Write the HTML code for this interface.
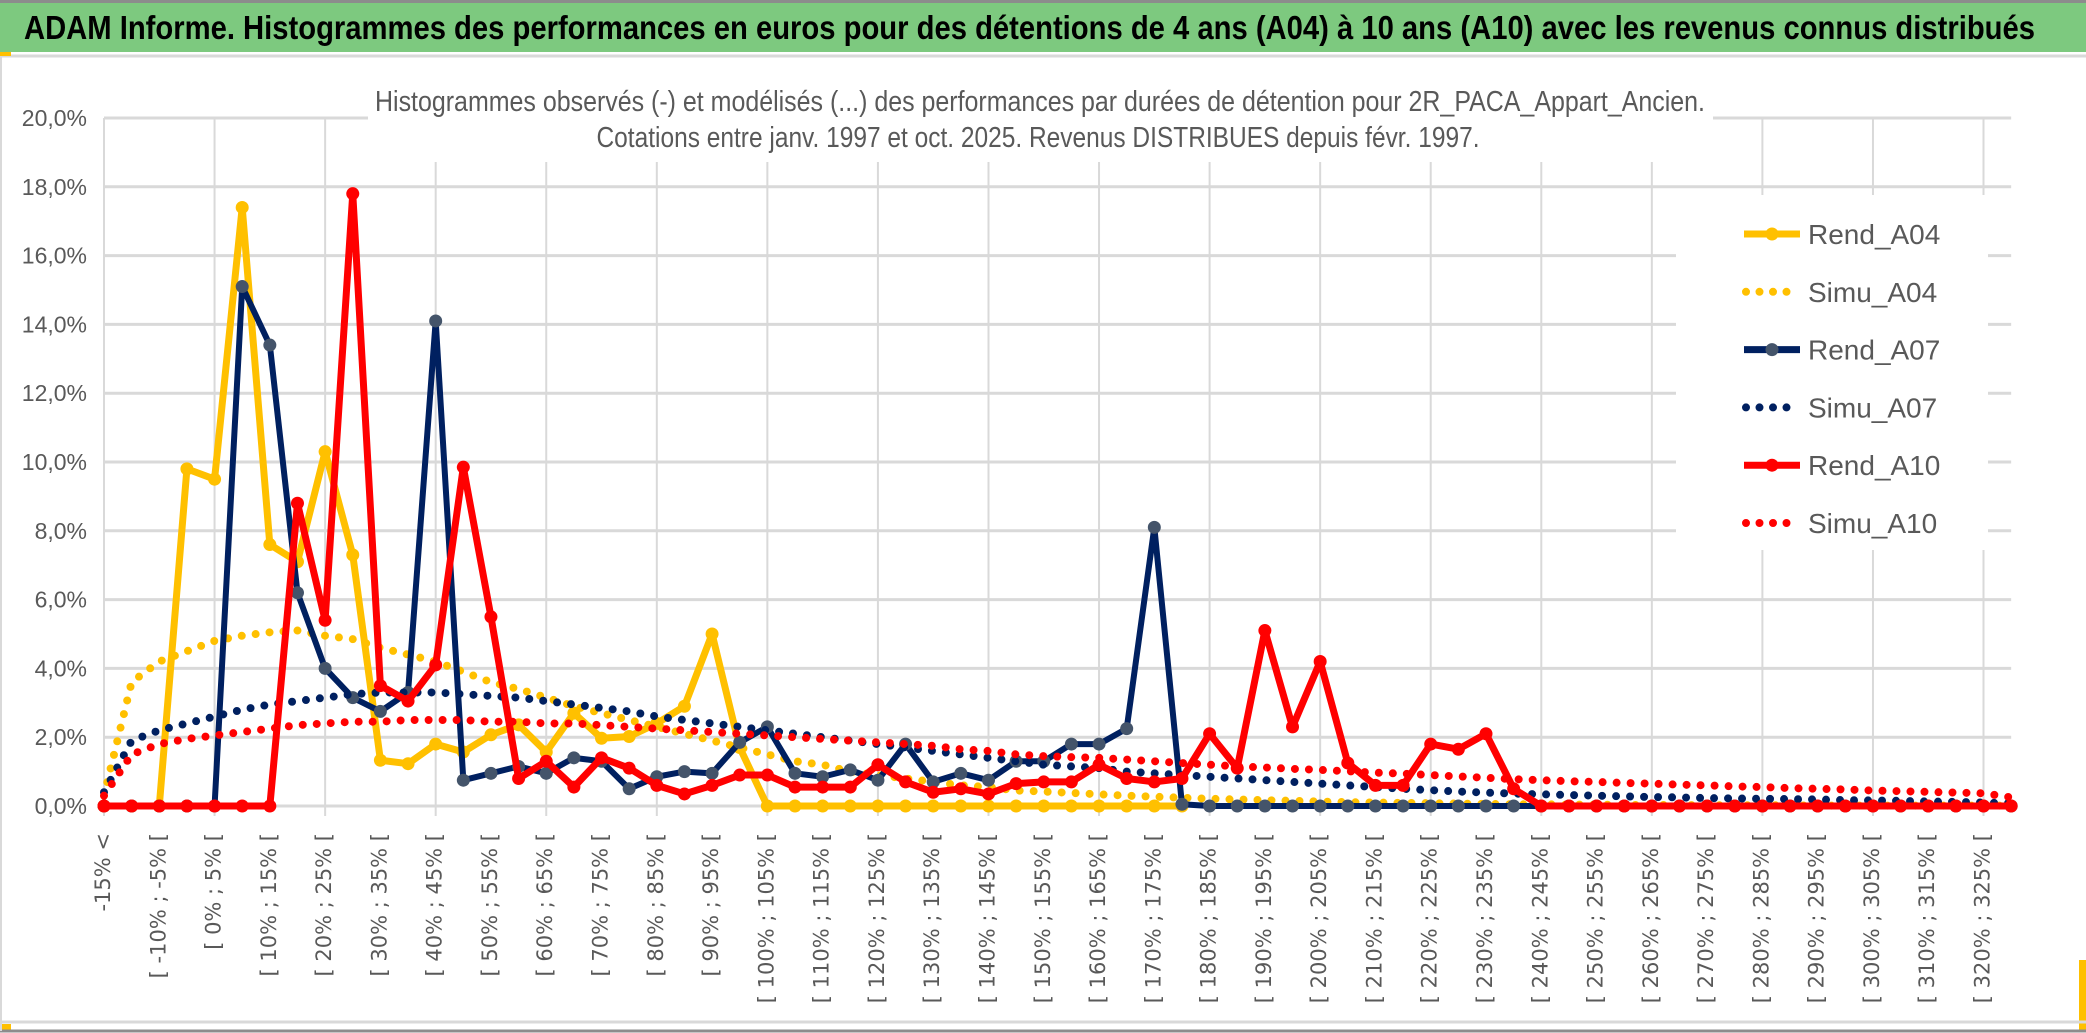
<!DOCTYPE html>
<html><head><meta charset="utf-8">
<style>
html,body{margin:0;padding:0;background:#fff;}
svg{display:block;}
</style></head>
<body>
<svg id="chart" xmlns="http://www.w3.org/2000/svg" width="2086" height="1033" viewBox="0 0 2086 1033">
  <rect x="0" y="0" width="2086" height="1033" fill="#ffffff"/>
  <rect x="0" y="3" width="2086" height="49" fill="#7dc97f"/>
  <line x1="0" y1="1.5" x2="2086" y2="1.5" stroke="#8c8c8c" stroke-width="3"/>
  <text x="24" y="39" font-family="'Liberation Sans Narrow','Liberation Sans',sans-serif" font-weight="bold" font-size="33" fill="#000" textLength="2011" lengthAdjust="spacingAndGlyphs">ADAM Informe. Histogrammes des performances en euros pour des détentions de 4 ans (A04) à 10 ans (A10) avec les revenus connus distribués</text>
  <line x1="0" y1="56" x2="2086" y2="56" stroke="#d9d9d9" stroke-width="3"/>
  <rect x="0" y="52" width="11" height="4" fill="#ffc000"/>
  <rect x="0" y="1024" width="11" height="6" fill="#ffc000"/>
  <rect x="2079" y="960" width="7" height="70" fill="#ffc000"/>
  <line x1="0" y1="1022" x2="2086" y2="1022" stroke="#d9d9d9" stroke-width="3"/>
  <line x1="0" y1="1031" x2="2086" y2="1031" stroke="#8c8c8c" stroke-width="3"/>
  <line x1="1" y1="56" x2="1" y2="1031" stroke="#d9d9d9" stroke-width="2"/>
  <g id="grid"></g>
  <rect x="368" y="70" width="1345" height="92" fill="#fff"/>
  <text x="1040" y="111" text-anchor="middle" font-family="'Liberation Sans Narrow','Liberation Sans',sans-serif" font-size="29" fill="#595959" textLength="1330" lengthAdjust="spacingAndGlyphs">Histogrammes observés (-) et modélisés (...) des performances par durées de détention pour 2R_PACA_Appart_Ancien.</text>
  <text x="1038" y="147" text-anchor="middle" font-family="'Liberation Sans Narrow','Liberation Sans',sans-serif" font-size="29" fill="#595959" textLength="883" lengthAdjust="spacingAndGlyphs">Cotations entre janv. 1997 et oct. 2025. Revenus DISTRIBUES depuis févr. 1997.</text>
  <rect x="1676" y="195" width="312" height="355" fill="#fff"/>
  <g id="ylabels"></g>
  <g id="xlabels"></g>
  <g id="series"></g>
  <g id="legend"></g>
</svg>
<script>
const categories = (function(){ const c=["-15% <"]; for(let k=1;k<70;k++){const a=-15+5*(k-1), b=a+5; c.push("[ "+a+"% ; "+b+"% [");} return c;})();
const yTicks = [0,2,4,6,8,10,12,14,16,18,20];
const yTickLabels = ["0,0%","2,0%","4,0%","6,0%","8,0%","10,0%","12,0%","14,0%","16,0%","18,0%","20,0%"];
const seriesNames = ["Rend_A04","Simu_A04","Rend_A07","Simu_A07","Rend_A10","Simu_A10"];
const rendA04 = [0,0,0,9.8,9.5,17.4,7.6,7.1,10.3,7.3,1.33,1.23,1.8,1.57,2.07,2.36,1.57,2.7,1.97,2.02,2.4,2.9,5.0,1.7,0,0,0,0,0,0,0,0,0,0,0,0,0,0,0,0];
const simuA04 = [0.3,3.6,4.2,4.5,4.8,4.95,5.05,5.1,4.95,4.85,4.6,4.4,4.2,3.9,3.6,3.4,3.15,2.9,2.7,2.5,2.3,2.1,1.9,1.7,1.5,1.3,1.2,1.0,0.9,0.8,0.7,0.6,0.55,0.45,0.42,0.38,0.34,0.3,0.27,0.24,0.21,0.19,0.17,0.15,0.13,0.11,0.1,0.09,0.08,0.07,0.06,0.05,0.05,0.04,0.04,0.03,0.03,0.03,0.02,0.02,0.02,0.02,0.01,0.01,0.01,0.01,0.01,0.01,0.01,0.01];
const rendA07 = [0,0,0,0,0,15.1,13.4,6.2,4.0,3.15,2.75,3.3,14.1,0.75,0.95,1.15,0.95,1.4,1.3,0.5,0.85,1.0,0.95,1.85,2.3,0.95,0.85,1.05,0.75,1.8,0.7,0.95,0.75,1.3,1.3,1.8,1.8,2.25,8.1,0.05,0,0,0,0,0,0,0,0,0,0,0,0,0,0,0,0,0,0,0,0,0,0,0,0,0,0,0,0,0,0];
const simuA07 = [0.4,1.9,2.2,2.4,2.6,2.8,2.95,3.05,3.15,3.25,3.3,3.3,3.3,3.25,3.2,3.15,3.05,2.95,2.85,2.75,2.6,2.5,2.4,2.3,2.2,2.1,2.0,1.9,1.8,1.7,1.6,1.5,1.4,1.3,1.2,1.15,1.1,1.0,0.95,0.9,0.85,0.8,0.75,0.7,0.65,0.6,0.55,0.5,0.46,0.42,0.39,0.36,0.34,0.32,0.3,0.28,0.26,0.25,0.23,0.22,0.21,0.2,0.19,0.17,0.16,0.15,0.13,0.12,0.1,0.08];
const rendA10 = [0,0,0,0,0,0,0,8.8,5.4,17.8,3.5,3.05,4.1,9.85,5.5,0.8,1.3,0.55,1.4,1.1,0.6,0.35,0.6,0.9,0.9,0.55,0.55,0.55,1.2,0.7,0.4,0.5,0.35,0.65,0.7,0.7,1.2,0.8,0.7,0.8,2.1,1.1,5.1,2.3,4.2,1.25,0.6,0.6,1.8,1.65,2.1,0.5,0,0,0,0,0,0,0,0,0,0,0,0,0,0,0,0,0,0];
const simuA10 = [0.3,1.5,1.8,1.95,2.05,2.15,2.25,2.35,2.4,2.45,2.45,2.5,2.5,2.5,2.45,2.45,2.4,2.4,2.35,2.3,2.25,2.2,2.15,2.1,2.05,2.0,1.95,1.9,1.85,1.8,1.75,1.65,1.6,1.5,1.45,1.42,1.4,1.35,1.3,1.25,1.2,1.15,1.12,1.08,1.05,1.01,0.97,0.94,0.9,0.86,0.82,0.78,0.75,0.72,0.7,0.67,0.65,0.62,0.6,0.57,0.55,0.52,0.5,0.48,0.45,0.43,0.41,0.39,0.37,0.25];

const NS="http://www.w3.org/2000/svg";
const X0=104, DX=27.64, Y0=806, YPER=34.4;
function xPos(i){return X0+i*DX;}
function yPos(v){return Y0-v*YPER;}
function mk(tag,attrs,parent){const e=document.createElementNS(NS,tag);for(const k in attrs)e.setAttribute(k,attrs[k]);parent.appendChild(e);return e;}

const grid=document.getElementById('grid');
yTicks.forEach((t,k)=>{
  const l=mk('line',{x1:X0,x2:xPos(69),y1:yPos(t),y2:yPos(t),stroke:'#d9d9d9','stroke-width':3},grid);
  
  
});
for(let i=0;i<70;i+=4){
  const l=mk('line',{x1:xPos(i),x2:xPos(i),y1:yPos(20),y2:Y0+10,stroke:'#d9d9d9','stroke-width':2},grid);
  
  
}
const yl=document.getElementById('ylabels');
yTicks.forEach((t,k)=>{
  const tx=mk('text',{x:87,y:yPos(t)+8,'text-anchor':'end','font-family':"'Liberation Sans Narrow','Liberation Sans',sans-serif",'font-size':23,fill:'#595959'},yl);
  tx.textContent=yTickLabels[k];
  
  
});
const xl=document.getElementById('xlabels');
categories.forEach((c,i)=>{
  if(i%2!==0)return;
  const x=xPos(i), y=833;
  const tx=mk('text',{x:0,y:0,transform:`translate(${x},${y}) rotate(-90)`,'text-anchor':'end','dominant-baseline':'middle','font-family':"'DejaVu Sans',sans-serif",'font-size':21,fill:'#595959'},xl);
  tx.textContent=c;
  
  
});

const sg=document.getElementById('series');
function solid(data,color,mcolor,w,name){
  const pts=data.map((v,i)=>xPos(i)+','+yPos(v)).join(' ');
  const pl=mk('polyline',{points:pts,fill:'none',stroke:color,'stroke-width':w,'stroke-linejoin':'round'},sg);
  
  
  data.forEach((v,i)=>{
    const c=mk('circle',{cx:xPos(i),cy:yPos(v),r:6.5,fill:mcolor},sg);
    
    
  });
}
function dotted(data,color,name){
  const pts=data.map((v,i)=>xPos(i)+','+yPos(v)).join(' ');
  const pl=mk('polyline',{points:pts,fill:'none',stroke:color,'stroke-width':8,'stroke-linecap':'round','stroke-dasharray':'0 14'},sg);
  
  
}
solid(rendA04,'#ffc000','#ffc000',7,'rend-a04');
dotted(simuA04,'#ffc000','simu-a04');
solid(rendA07,'#002060','#44546a',6,'rend-a07');
dotted(simuA07,'#002060','simu-a07');
solid(rendA10,'#ff0000','#ff0000',7,'rend-a10');
dotted(simuA10,'#ff0000','simu-a10');

const lg=document.getElementById('legend');
const lcolors=['#ffc000','#ffc000','#002060','#002060','#ff0000','#ff0000'];
seriesNames.forEach((n,k)=>{
  const y=234+k*57.8;
  const g=mk('g',{},lg);
  
  
  if(k%2===0){
    mk('line',{x1:1744,x2:1800,y1:y,y2:y,stroke:lcolors[k],'stroke-width':7},g);
    mk('circle',{cx:1772,cy:y,r:6.5,fill:k===2?'#44546a':lcolors[k]},g);
  } else {
    mk('line',{x1:1746,x2:1800,y1:y,y2:y,stroke:lcolors[k],'stroke-width':8,'stroke-linecap':'round','stroke-dasharray':'0 13.5'},g);
  }
  const t=mk('text',{x:1808,y:y+10,'font-family':"'Liberation Sans Narrow','Liberation Sans',sans-serif",'font-size':28,fill:'#595959'},g);
  t.textContent=n;
});
</script>
</body></html>
